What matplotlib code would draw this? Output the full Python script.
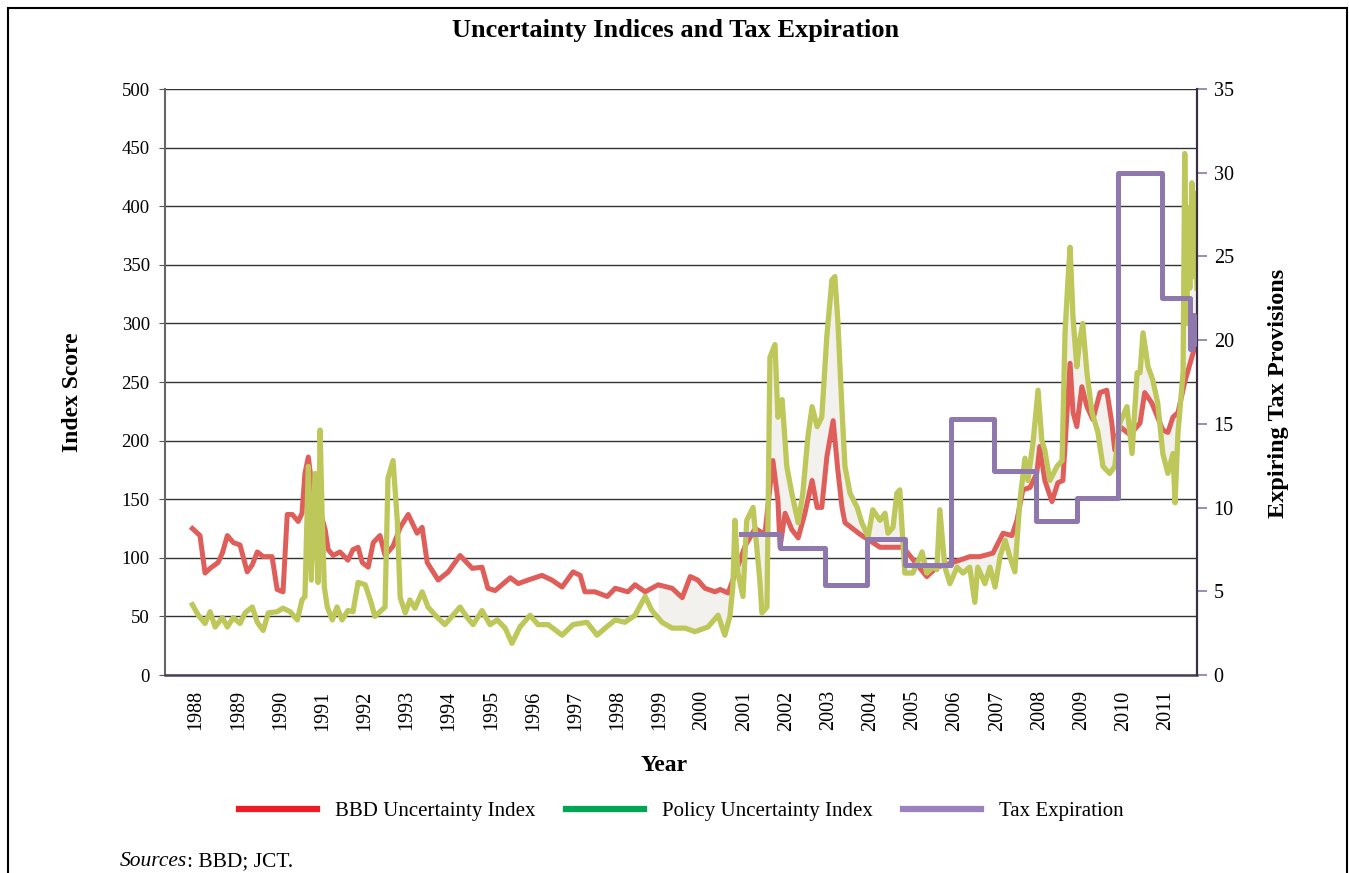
import numpy as np
import matplotlib
matplotlib.use('Agg')
import matplotlib.pyplot as plt
from matplotlib.lines import Line2D
from matplotlib.patches import Rectangle

plt.rcParams['font.family'] = ['Liberation Serif', 'DejaVu Serif']

# --- data (decimal years) ---
bbd_x = [1987.91, 1988.09, 1988.21, 1988.33, 1988.52, 1988.62, 1988.74, 1988.88, 1989.04, 1989.21,
         1989.33, 1989.45, 1989.59, 1989.80, 1989.92, 1990.06, 1990.16, 1990.28, 1990.42, 1990.51,
         1990.58, 1990.66, 1990.75, 1990.87, 1991.06, 1991.13, 1991.25, 1991.41, 1991.60, 1991.72,
         1991.84, 1991.94, 1992.08, 1992.20, 1992.36, 1992.48, 1992.67, 1992.84, 1993.03, 1993.24,
         1993.36, 1993.48, 1993.74, 1993.98, 1994.26, 1994.55, 1994.78, 1994.92, 1995.09, 1995.45,
         1995.64, 1995.87, 1996.20, 1996.44, 1996.68, 1996.94, 1997.11, 1997.22, 1997.46, 1997.75,
         1997.94, 1998.24, 1998.41, 1998.65, 1998.96, 1999.29, 1999.53, 1999.72, 1999.90, 2000.07,
         2000.31, 2000.43, 2000.62, 2001.02, 2001.26, 2001.49, 2001.68, 2001.80, 2001.85, 2001.97,
         2002.13, 2002.28, 2002.44, 2002.61, 2002.73, 2002.84, 2002.96, 2003.11, 2003.22, 2003.32,
         2003.39, 2003.75, 2004.22, 2004.77, 2005.33, 2005.57, 2005.95, 2006.35, 2006.59, 2006.90,
         2007.14, 2007.35, 2007.47, 2007.61, 2007.78, 2007.94, 2008.01, 2008.13, 2008.30, 2008.44,
         2008.56, 2008.73, 2008.80, 2008.89, 2009.01, 2009.13, 2009.27, 2009.44, 2009.60, 2009.72,
         2009.79, 2009.91, 2010.15, 2010.39, 2010.50, 2010.67, 2010.93, 2011.05, 2011.17, 2011.29,
         2011.45, 2011.69]
bbd_v = [125, 119, 87, 91, 96, 104, 119, 113, 111, 88,
         94, 105, 101, 101, 73, 71, 137, 137, 131, 138,
         172, 186, 160, 149, 124, 107, 102, 105, 98, 107,
         109, 96, 92, 113, 119, 102, 110, 126, 137, 121,
         126, 96, 81, 88, 102, 91, 92, 74, 72, 83,
         78, 81, 85, 81, 75, 88, 85, 71, 71, 67,
         74, 71, 77, 71, 77, 74, 66, 84, 81, 74,
         71, 73, 70, 110, 125, 120, 183, 149, 109, 138,
         124, 117, 138, 166, 143, 143, 186, 217, 175, 143,
         130, 120, 109, 109, 84, 92, 96, 101, 101, 104,
         121, 119, 132, 158, 160, 172, 195, 166, 148, 164,
         166, 266, 224, 212, 246, 229, 218, 241, 243, 215,
         192, 212, 205, 215, 241, 232, 209, 207, 220, 224,
         250, 280]

policy_x = [1987.91, 1988.05, 1988.21, 1988.33, 1988.45, 1988.62, 1988.74, 1988.88, 1989.04, 1989.16,
            1989.33, 1989.45, 1989.59, 1989.71, 1989.92, 1990.06, 1990.23, 1990.40, 1990.51, 1990.58,
            1990.66, 1990.73, 1990.82, 1990.89, 1990.94, 1990.99, 1991.04, 1991.11, 1991.23, 1991.34,
            1991.46, 1991.60, 1991.72, 1991.84, 1992.01, 1992.13, 1992.24, 1992.36, 1992.48, 1992.55,
            1992.67, 1992.77, 1992.84, 1992.96, 1993.07, 1993.19, 1993.36, 1993.50, 1993.67, 1993.90,
            1994.09, 1994.26, 1994.43, 1994.57, 1994.78, 1994.97, 1995.14, 1995.33, 1995.49, 1995.68,
            1995.92, 1996.11, 1996.35, 1996.68, 1996.94, 1997.27, 1997.51, 1997.70, 1997.94, 1998.17,
            1998.41, 1998.65, 1998.81, 1999.05, 1999.29, 1999.60, 1999.83, 2000.14, 2000.38, 2000.54,
            2000.66, 2000.73, 2000.78, 2000.85, 2000.97, 2001.06, 2001.21, 2001.37, 2001.42, 2001.54,
            2001.61, 2001.73, 2001.80, 2001.90, 2002.01, 2002.13, 2002.28, 2002.39, 2002.51, 2002.61,
            2002.73, 2002.84, 2002.96, 2003.08, 2003.15, 2003.22, 2003.32, 2003.39, 2003.51, 2003.68,
            2003.79, 2003.94, 2004.05, 2004.22, 2004.34, 2004.41, 2004.53, 2004.62, 2004.69, 2004.81,
            2005.00, 2005.22, 2005.33, 2005.48, 2005.57, 2005.64, 2005.76, 2005.88, 2006.05, 2006.19,
            2006.35, 2006.47, 2006.54, 2006.71, 2006.83, 2006.95, 2007.07, 2007.19, 2007.30, 2007.42,
            2007.54, 2007.66, 2007.73, 2007.85, 2007.97, 2008.06, 2008.13, 2008.25, 2008.42, 2008.54,
            2008.61, 2008.68, 2008.73, 2008.80, 2008.89, 2008.96, 2009.03, 2009.13, 2009.25, 2009.39,
            2009.51, 2009.67, 2009.79, 2009.91, 2010.08, 2010.20, 2010.32, 2010.39, 2010.46, 2010.58,
            2010.69, 2010.81, 2010.93, 2011.05, 2011.17, 2011.22, 2011.29, 2011.41, 2011.45, 2011.50,
            2011.52, 2011.57, 2011.62, 2011.66, 2011.69, 2011.74]
policy_v = [60, 51, 44, 54, 41, 49, 41, 49, 44, 53,
            58, 45, 38, 53, 54, 57, 54, 47, 64, 67,
            178, 81, 172, 79, 209, 132, 75, 58, 47, 58,
            47, 55, 54, 79, 77, 64, 50, 54, 58, 168,
            183, 132, 66, 53, 64, 57, 71, 58, 51, 43,
            51, 58, 49, 43, 55, 43, 47, 40, 27, 41,
            51, 43, 43, 34, 43, 45, 34, 40, 47, 45,
            51, 67, 55, 45, 40, 40, 37, 41, 51, 34,
            50, 75, 132, 87, 67, 132, 143, 81, 53, 58,
            271, 282, 220, 235, 178, 155, 130, 155, 203, 229,
            212, 220, 289, 337, 340, 303, 226, 178, 155, 143,
            130, 118, 141, 132, 138, 121, 126, 155, 158, 87,
            87, 105, 87, 92, 90, 141, 92, 78, 92, 87,
            92, 62, 92, 78, 92, 75, 101, 115, 101, 88,
            149, 185, 166, 198, 243, 200, 192, 166, 178, 183,
            292, 337, 365, 305, 263, 286, 300, 258, 224, 207,
            178, 172, 178, 215, 229, 189, 258, 258, 292, 263,
            252, 232, 189, 172, 189, 147, 207, 258, 445, 300,
            399, 330, 420, 340, 411, 330]

tax_x = [2000.92, 2001.85, 2002.92, 2003.91, 2004.81, 2005.90, 2006.92, 2007.92,
         2008.89, 2009.86, 2010.91, 2011.57, 2011.62, 2011.66, 2011.70, 2011.74]
tax_v = [8.4, 7.6, 5.4, 8.1, 6.6, 15.3, 12.2, 9.2,
         10.6, 30.0, 22.5, 19.5, 21.5, 19.8, 20.5, 20.5]

years = list(range(1988, 2012))
left_ticks = [0, 50, 100, 150, 200, 250, 300, 350, 400, 450, 500]
right_ticks = [0, 5, 10, 15, 20, 25, 30, 35]

RED = '#E05E5A'
GREEN = '#BEC85A'
PURPLE = '#8E78AD'

fig = plt.figure(figsize=(13.49, 8.73), dpi=100)
ax = fig.add_axes([0.1223, 0.2268, 0.765, 0.6712])

# light shading between the two indices (later years only)
grid_x = np.union1d(bbd_x, policy_x)
grid_x = grid_x[grid_x >= 1998.9]
ax.fill_between(grid_x, np.interp(grid_x, bbd_x, bbd_v), np.interp(grid_x, policy_x, policy_v),
                color='#F3F1EE', lw=0, zorder=1)

ax.plot(bbd_x, bbd_v, color=RED, lw=3.6, solid_joinstyle='round', zorder=3)
ax.plot(policy_x, policy_v, color=GREEN, lw=3.8, solid_joinstyle='round', zorder=4)

ax.set_xlim(1987.26, 2011.74)
ax.set_ylim(0, 500)
ax.set_yticks(left_ticks)
ax.set_xticks(years)
ax.set_xticklabels([str(y) for y in years], rotation=90, fontsize=14.5)
ax.tick_params(axis='x', length=0, pad=11)
ax.tick_params(axis='y', labelsize=13.5, length=4, color='#555555', pad=7)
ax.grid(axis='y', color='#333333', lw=1.0, zorder=0)
ax.set_axisbelow(True)
ax.spines['top'].set_visible(False)
ax.spines['right'].set_visible(False)
ax.spines['left'].set_color('#666666')
ax.spines['left'].set_linewidth(1.5)
ax.spines['bottom'].set_color('#4A3F5A')
ax.spines['bottom'].set_linewidth(1.8)

ax2 = ax.twinx()
ax2.plot(tax_x, tax_v, color=PURPLE, lw=3.6, drawstyle='steps-post', zorder=5)
ax2.set_ylim(0, 35)
ax2.set_yticks(right_ticks)
ax2.tick_params(axis='y', labelsize=14.5, length=7, color=PURPLE, width=1.2, pad=5)
ax2.spines['right'].set_color('#3A3040')
ax2.spines['right'].set_linewidth(1.6)
for s in ['top', 'left', 'bottom']:
    ax2.spines[s].set_visible(False)

# axis titles
fig.text(0.0534, 0.551, 'Index Score', rotation=90, ha='center', va='center',
         fontsize=17, fontweight='bold')
fig.text(0.9474, 0.5498, 'Expiring Tax Provisions', rotation=90, ha='center', va='center',
         fontsize=17.5, fontweight='bold')
fig.text(0.492, 0.1237, 'Year', ha='center', va='center', fontsize=17, fontweight='bold')
fig.text(0.501, 0.9645, 'Uncertainty Indices and Tax Expiration', ha='center', va='center',
         fontsize=19, fontweight='bold')

handles = [Line2D([], [], color='#ED1C24', lw=4.5),
           Line2D([], [], color='#00A651', lw=4.5),
           Line2D([], [], color='#9B82BE', lw=4.5)]
fig.legend(handles, ['BBD Uncertainty Index', 'Policy Uncertainty Index', 'Tax Expiration'],
           loc='center', bbox_to_anchor=(0.505, 0.071), ncol=3, frameon=False, fontsize=15,
           handlelength=3.75, handletextpad=0.85, columnspacing=1.45)

# sources note: italic word followed directly by the rest
renderer = fig.canvas.get_renderer()
t1 = fig.text(0.089, 0.013, 'Sources', fontsize=15.5, style='italic', ha='left', va='center')
bb = t1.get_window_extent(renderer=renderer)
fig.text(bb.x1 / fig.bbox.width, 0.013, ': BBD; JCT.', fontsize=15.5, ha='left', va='center')

fig.patches.append(Rectangle((0.006, -0.02), 0.9985 - 0.006, 1.0108, transform=fig.transFigure,
                             fill=False, edgecolor='black', lw=1.5))

fig.savefig('out.png', dpi=100)
